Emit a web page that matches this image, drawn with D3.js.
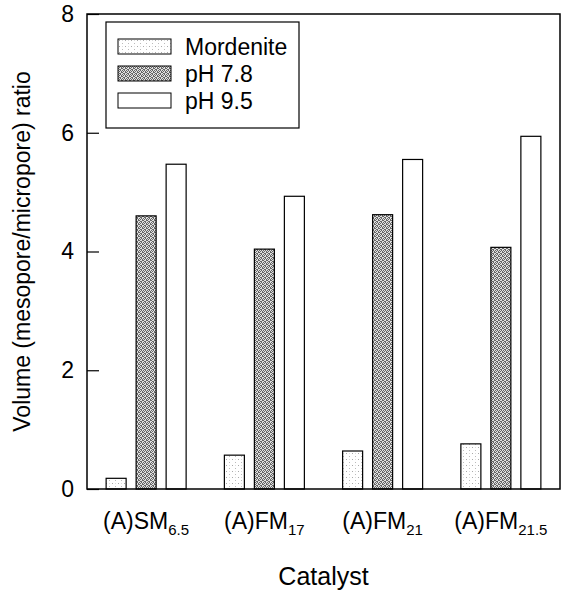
<!DOCTYPE html>
<html>
<head>
<meta charset="utf-8">
<script src="https://cdn.jsdelivr.net/npm/d3@7"></script>
<style>
	body { margin: 0; background: #fff; }
	svg { font-family: Arial, "Liberation Sans", Helvetica, sans-serif; }
</style>
</head>
<body>
<div id="chart"></div>
<script>
const catalysts = ['SM', 'FM', 'FM', 'FM'];
const catalystSubs = ['6.5', '17', '21', '21.5'];
const seriesNames = ['Mordenite', 'pH 7.8', 'pH 9.5'];
const mordenite = [0.18, 0.57, 0.64, 0.76];
const ph78 = [4.60, 4.04, 4.62, 4.07];
const ph95 = [5.47, 4.93, 5.55, 5.94];
const yTicks = [0, 2, 4, 6, 8];

const width = 569, height = 593;
const margin = { top: 14, right: 9, bottom: 104, left: 87 };
const innerW = width - margin.left - margin.right;
const innerH = height - margin.top - margin.bottom;

const svg = d3.select('#chart').append('svg')
	.attr('width', width)
	.attr('height', height);

// fill patterns for the three series
const defs = svg.append('defs');
const light = defs.append('pattern')
	.attr('id', 'pat-mord')
	.attr('patternUnits', 'userSpaceOnUse')
	.attr('width', 6).attr('height', 6);
light.append('rect').attr('width', 6).attr('height', 6).attr('fill', '#fff');
light.append('rect').attr('x', 1).attr('y', 1).attr('width', 1).attr('height', 1).attr('fill', '#aaa');
light.append('rect').attr('x', 4).attr('y', 4).attr('width', 1).attr('height', 1).attr('fill', '#bbb');
light.append('rect').attr('x', 4).attr('y', 1).attr('width', 1).attr('height', 1).attr('fill', '#ddd');

// stipple for pH 7.8, irregular dots so it doesn't read as hatching
const dark = defs.append('pattern')
	.attr('id', 'pat-78')
	.attr('patternUnits', 'userSpaceOnUse')
	.attr('width', 4).attr('height', 4);
dark.append('rect').attr('width', 4).attr('height', 4).attr('fill', '#e0e0e0');
[[0, 0], [2, 0], [1, 1], [3, 1], [0, 2], [3, 2], [1, 3], [2, 3]].forEach(p => {
	dark.append('rect')
		.attr('x', p[0]).attr('y', p[1])
		.attr('width', 1).attr('height', 1)
		.attr('fill', '#666');
});

const fills = ['url(#pat-mord)', 'url(#pat-78)', '#fff'];

const g = svg.append('g')
	.attr('transform', `translate(${margin.left},${margin.top})`);

const x0 = d3.scaleBand()
	.domain(d3.range(catalysts.length))
	.range([0, innerW])
	.padding(0);

const x1 = d3.scaleBand()
	.domain(d3.range(seriesNames.length))
	.range([x0.bandwidth() / 2 - 40, x0.bandwidth() / 2 + 40])
	.paddingInner(1 / 3);

const y = d3.scaleLinear()
	.domain([0, 8])
	.range([innerH, 0]);

const series = [mordenite, ph78, ph95];

// bars
series.forEach((vals, s) => {
	g.selectAll('.bar-' + s)
		.data(vals)
		.enter().append('rect')
		.attr('class', 'bar-' + s)
		.attr('x', (d, i) => x0(i) + x1(s))
		.attr('y', d => y(d))
		.attr('width', x1.bandwidth())
		.attr('height', d => innerH - y(d))
		.attr('fill', fills[s])
		.attr('stroke', '#000')
		.attr('stroke-width', 1.2);
});

// frame
g.append('rect')
	.attr('width', innerW)
	.attr('height', innerH)
	.attr('fill', 'none')
	.attr('stroke', '#000')
	.attr('stroke-width', 1.5);

// y axis with inward ticks
const yAxis = g.append('g')
	.call(d3.axisLeft(y).tickValues(yTicks).tickSize(-12).tickPadding(13).tickFormat(d3.format('d')));
yAxis.select('.domain').remove();
yAxis.selectAll('line').attr('stroke', '#000').attr('stroke-width', 1.2);
yAxis.selectAll('text')
	.attr('font-size', 23)
	.attr('fill', '#000');

// x category labels with subscripts
const xl = g.append('g');
catalysts.forEach((c, i) => {
	const t = xl.append('text')
		.attr('x', x0(i) + x0.bandwidth() / 2)
		.attr('y', innerH + 40)
		.attr('text-anchor', 'middle')
		.attr('font-size', 23)
		.attr('fill', '#000');
	t.append('tspan').text('(A)' + c);
	t.append('tspan')
		.attr('font-size', 15)
		.attr('dy', 6)
		.text(catalystSubs[i]);
});

// axis titles
svg.append('text')
	.attr('x', margin.left + innerW / 2)
	.attr('y', 585)
	.attr('text-anchor', 'middle')
	.attr('font-size', 25)
	.text('Catalyst');

svg.append('text')
	.attr('transform', `translate(30,${margin.top + innerH / 2}) rotate(-90)`)
	.attr('text-anchor', 'middle')
	.attr('font-size', 23)
	.text('Volume (mesopore/micropore) ratio');

// legend
const legend = svg.append('g').attr('transform', 'translate(106,22)');
legend.append('rect')
	.attr('width', 193)
	.attr('height', 106)
	.attr('fill', '#fff')
	.attr('stroke', '#000')
	.attr('stroke-width', 1.2);

seriesNames.forEach((name, s) => {
	const row = legend.append('g').attr('transform', `translate(12,${17 + s * 27})`);
	row.append('rect')
		.attr('width', 53)
		.attr('height', 15)
		.attr('fill', fills[s])
		.attr('stroke', '#000')
		.attr('stroke-width', 1);
	row.append('text')
		.attr('x', 67)
		.attr('y', 16)
		.attr('font-size', 23)
		.text(name);
});
</script>
</body>
</html>
